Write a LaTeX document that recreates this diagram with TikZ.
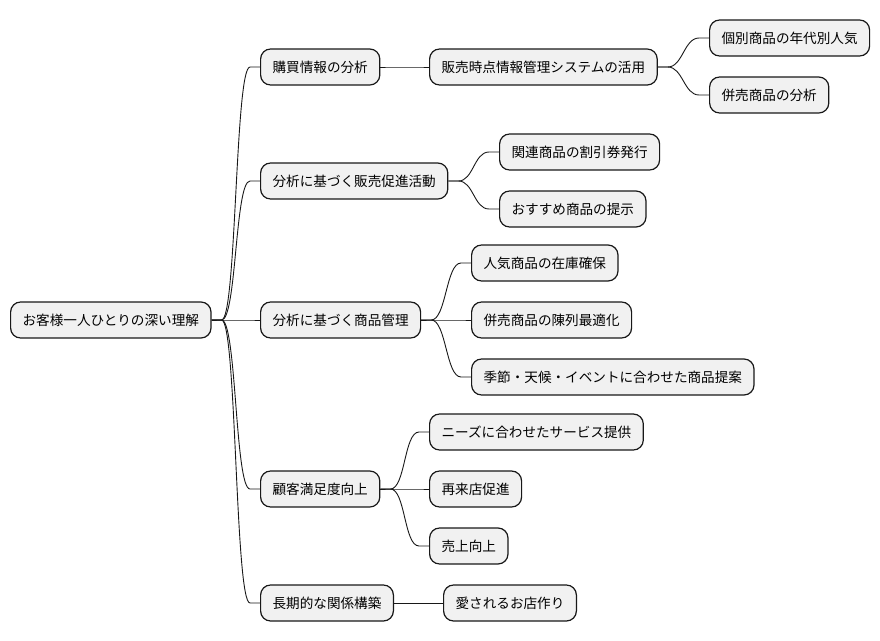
\documentclass[tikz,border=0pt]{standalone}
\usepackage{fontspec}
\setmainfont{Noto Sans CJK JP}
\usetikzlibrary{calc}

\definecolor{boxfill}{HTML}{F1F1F1}
\definecolor{boxline}{HTML}{181818}

\tikzset{
  topic/.style={draw=boxline, fill=boxfill, line width=1.2pt, rounded corners=10pt,
    minimum height=36pt, inner xsep=12pt, anchor=west,
    font=\fontsize{13.6}{16}\selectfont},
  link/.style={draw=boxline, line width=0.9pt}
}

\begin{document}
\begin{tikzpicture}[x=1pt,y=-1pt]
        \useasboundingbox (0,0) rectangle (880,640);

        % root
        \node[topic] (root) at (10,320) {お客様一人ひとりの深い理解};

        % first level
        \node[topic] (buy) at (260,67) {購買情報の分析};
        \node[topic] (promo) at (260,181) {分析に基づく販売促進活動};
        \node[topic] (goods) at (260,320) {分析に基づく商品管理};
        \node[topic] (satis) at (260,489) {顧客満足度向上};
        \node[topic] (bond) at (260,603) {長期的な関係構築};

        % second level
        \node[topic] (pos) at (429,67) {販売時点情報管理システムの活用};
        \node[topic] (coupon) at (499,152) {関連商品の割引券発行};
        \node[topic] (recom) at (499,209) {おすすめ商品の提示};
        \node[topic] (stock) at (471,263) {人気商品の在庫確保};
        \node[topic] (shelf) at (471,320) {併売商品の陳列最適化};
        \node[topic] (season) at (471,377) {季節・天候・イベントに合わせた商品提案};
        \node[topic] (needs) at (429,432) {ニーズに合わせたサービス提供};
        \node[topic] (revisit) at (429,489) {再来店促進};
        \node[topic] (sales) at (429,546) {売上向上};
        \node[topic] (shop) at (443,603) {愛されるお店作り};

        % third level
        \node[topic] (age) at (709,38) {個別商品の年代別人気};
        \node[topic] (pair) at (709,95) {併売商品の分析};

        % connectors
        \foreach \p/\c in {root/buy, root/promo, root/goods, root/satis, root/bond,
                           buy/pos, pos/age, pos/pair,
                           promo/coupon, promo/recom,
                           goods/stock, goods/shelf, goods/season,
                           satis/needs, satis/revisit, satis/sales,
                           bond/shop}
          \draw[link] (\p.east) -- ++(10,0)
                .. controls +(15,0) and +(-15,0) .. ($(\c.west)+(-10,0)$) -- (\c.west);
\end{tikzpicture}
\end{document}
